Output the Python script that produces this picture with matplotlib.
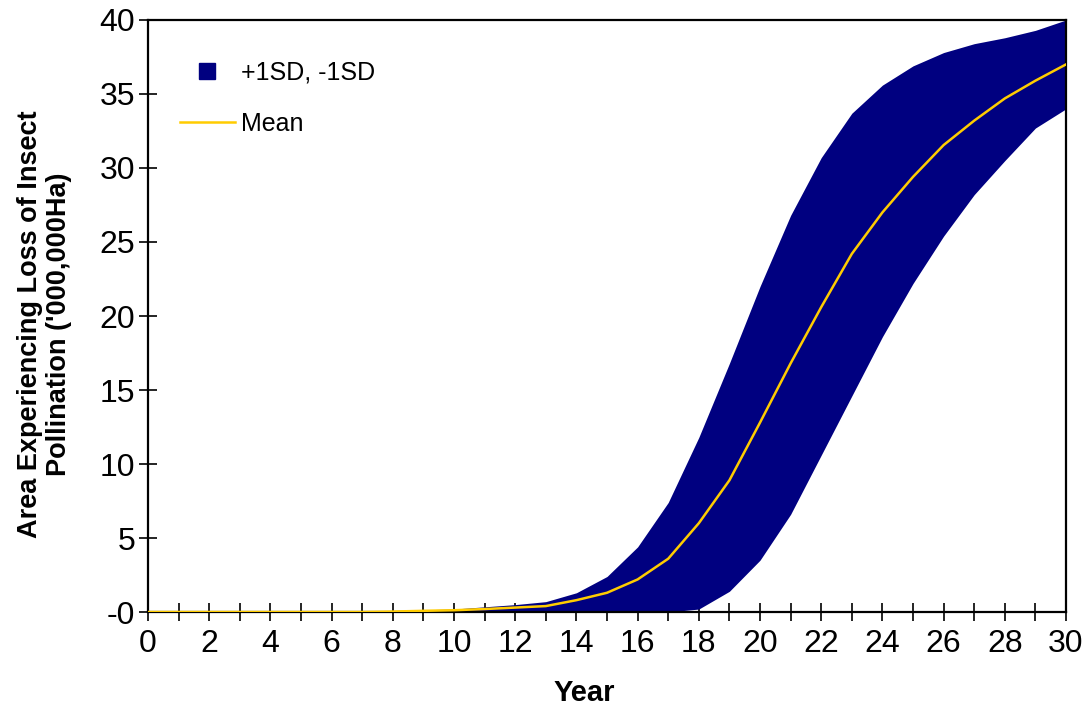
import matplotlib
matplotlib.use('Agg')
import matplotlib.pyplot as plt
from matplotlib.lines import Line2D
from matplotlib.ticker import MultipleLocator

plt.rcParams['font.family'] = ['Liberation Sans', 'DejaVu Sans']

# values ('000,000 Ha)
years = list(range(0, 31))
upper = [0, 0, 0, 0, 0, 0, 0, 0, 0.1, 0.15, 0.2, 0.35, 0.5, 0.7, 1.3, 2.4,
         4.4, 7.4, 11.8, 16.8, 22.0, 26.8, 30.7, 33.7, 35.6, 36.9, 37.8,
         38.4, 38.8, 39.3, 40.0]
mean = [0, 0, 0, 0, 0, 0, 0, 0, 0.03, 0.08, 0.12, 0.2, 0.3, 0.4, 0.8, 1.3,
        2.2, 3.6, 6.0, 8.9, 12.8, 16.8, 20.6, 24.2, 27.0, 29.4, 31.55,
        33.2, 34.7, 35.9, 37.0]
lower = [0, 0, 0, 0, 0, 0, 0, 0, 0, 0, 0, 0, 0, 0, 0, 0, 0, 0, 0.2, 1.4,
         3.5, 6.6, 10.6, 14.6, 18.6, 22.2, 25.4, 28.2, 30.5, 32.7, 34.0]

yticks = [0, 5, 10, 15, 20, 25, 30, 35, 40]
ytick_labels = ['-0', '5', '10', '15', '20', '25', '30', '35', '40']

band_color = '#000080'
mean_color = '#FFCC00'

fig = plt.figure(figsize=(10.89, 7.09), dpi=100)
ax = fig.add_axes([0.1359, 0.1368, 0.843, 0.835])

ax.fill_between(years, lower, upper, color=band_color, linewidth=0, zorder=2)
ax.plot(years, mean, color=mean_color, linewidth=1.8, zorder=3)

ax.set_xlim(0, 30)
ax.set_ylim(0, 40)
ax.xaxis.set_major_locator(MultipleLocator(2))
ax.xaxis.set_minor_locator(MultipleLocator(1))
ax.set_yticks(yticks)
ax.set_yticklabels(ytick_labels)

ax.tick_params(axis='both', which='both', direction='inout', length=12.5,
               width=1.2, color='black', labelsize=23)
ax.tick_params(axis='x', pad=6)
ax.tick_params(axis='y', pad=3)

for s in ax.spines.values():
    s.set_linewidth(1.6)
    s.set_color('black')

ax.set_xlabel('Year', fontsize=21, fontweight='bold')
ax.set_ylabel("Area Experiencing Loss of Insect\nPollination ('000,000Ha)",
              fontsize=19.5, fontweight='bold', linespacing=1.12)
# labels sit a little off-centre in the original
ax.xaxis.set_label_coords(0.4755, -0.113)
ax.yaxis.set_label_coords(-0.083, 0.4865)

handles = [Line2D([], [], marker='s', linestyle='none', color=band_color,
                  markersize=12),
           Line2D([], [], color=mean_color, linewidth=1.8)]
ax.legend(handles, ['+1SD, -1SD', 'Mean'], loc='upper left',
          bbox_to_anchor=(0.01, 0.97), frameon=False, fontsize=18,
          handlelength=2.2, handletextpad=0.25, labelspacing=1.1)

plt.savefig('out.png', dpi=100)
